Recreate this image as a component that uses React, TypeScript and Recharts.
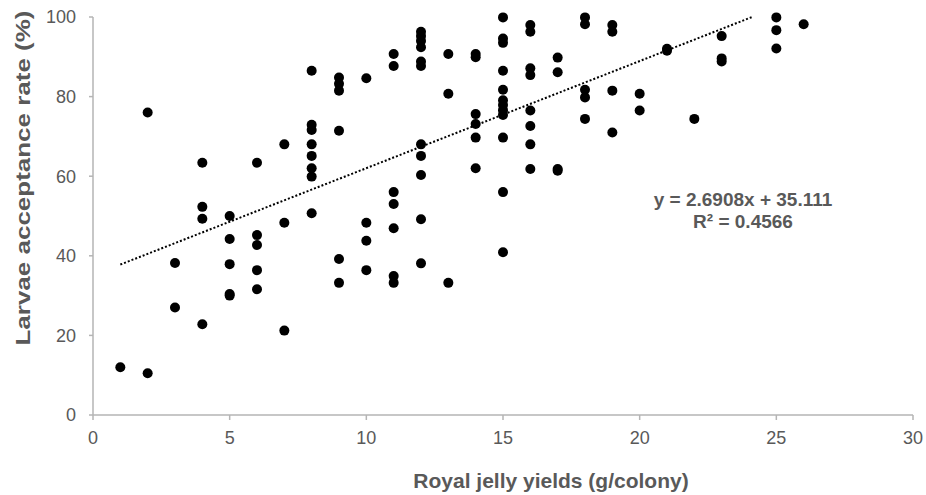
import React from 'react';
import { ScatterChart, Scatter, XAxis, YAxis } from 'recharts';

// Royal jelly yields (g/colony)
const yieldX = [
  1,
  2, 2,
  3, 3,
  4, 4, 4, 4,
  5, 5, 5, 5, 5,
  6, 6, 6, 6, 6,
  7, 7, 7,
  8, 8, 8, 8, 8, 8, 8, 8,
  9, 9, 9, 9, 9, 9,
  10, 10, 10, 10,
  11, 11, 11, 11, 11, 11, 11,
  12, 12, 12, 12, 12, 12, 12, 12, 12, 12, 12,
  13, 13, 13,
  14, 14, 14, 14, 14, 14,
  15, 15, 15, 15, 15, 15, 15, 15, 15, 15, 15, 15,
  16, 16, 16, 16, 16, 16, 16, 16,
  17, 17, 17, 17,
  18, 18, 18, 18, 18,
  19, 19, 19, 19,
  20, 20,
  21, 21,
  22,
  23, 23, 23,
  25, 25, 25,
  26,
];

// Larvae acceptance rate (%)
const acceptanceY = [
  12,
  76, 10.5,
  38.2, 27,
  63.4, 52.3, 49.3, 22.8,
  50, 44.2, 37.9, 30.4, 30,
  63.4, 45.2, 42.7, 36.4, 31.6,
  68, 48.3, 21.2,
  86.5, 72.9, 71.6, 68, 65.1, 62, 59.9, 50.7,
  84.8, 83.2, 81.5, 71.4, 39.2, 33.2,
  84.6, 48.3, 43.8, 36.4,
  90.7, 87.7, 56, 53, 46.9, 34.9, 33.2,
  96.3, 95.2, 94, 92.4, 88.8, 87.7, 68, 65.1, 60.3, 49.2, 38.1,
  90.7, 80.7, 33.2,
  90.7, 89.9, 75.6, 73.1, 69.7, 62,
  99.9, 94.6, 93.5, 86.5, 81.7, 79.1, 77.9, 76.6, 75.4, 69.7, 56, 40.9,
  98, 96.3, 87.1, 85.4, 76.5, 72.6, 68, 61.8,
  89.8, 86.1, 61.8, 61.4,
  99.9, 98.2, 81.7, 79.8, 74.4,
  98, 96.3, 81.5, 71,
  80.7, 76.5,
  92, 91.5,
  74.4,
  95.2, 89.6, 88.8,
  99.9, 96.7, 92.1,
  98.2,
];

const xTicks = [0, 5, 10, 15, 20, 25, 30];
const yTicks = [0, 20, 40, 60, 80, 100];

const trendSlope = 2.6908;
const trendIntercept = 35.111;
const trendX = [1, 24.1];

const equationText = 'y = 2.6908x + 35.111';
const r2Text = 'R² = 0.4566';
const xTitle = 'Royal jelly yields (g/colony)';
const yTitle = 'Larvae acceptance rate (%)';

const points = yieldX.map((x, i) => ({ x, y: acceptanceY[i] }));
const trendData = trendX.map((x) => ({ x, y: trendSlope * x + trendIntercept }));

const FONT = '"Liberation Sans", Arial, sans-serif';
const TEXT = '#595959';
const AXIS = '#b5b5b5';

const dotShape = (p: any) => <circle cx={p.cx} cy={p.cy} r={5} fill="#000" />;
const noShape = () => <g />;

const yLabel = () => (
  <text
    x={22}
    y={178}
    transform="rotate(-90 22 178)"
    textAnchor="middle"
    dominantBaseline="central"
    fontSize={21}
    fontWeight="bold"
    fill={TEXT}
    fontFamily={FONT}
    textLength={335}
    lengthAdjust="spacingAndGlyphs"
  >
    {yTitle}
  </text>
);

const xLabel = () => (
  <text
    x={551}
    y={488}
    textAnchor="middle"
    fontSize={21}
    fontWeight="bold"
    fill={TEXT}
    fontFamily={FONT}
  >
    {xTitle}
  </text>
);

export default function App() {
  return (
    <div style={{ position: 'absolute', left: 0, top: 0, width: 926, height: 495, background: '#fff' }}>
      <ScatterChart width={926} height={495} margin={{ top: 17, right: 13, bottom: 0, left: 0 }}>
        <XAxis
          type="number"
          dataKey="x"
          domain={[0, 30]}
          ticks={xTicks}
          interval={0}
          height={80}
          tickSize={5}
          tickMargin={11}
          stroke={AXIS}
          strokeWidth={1.5}
          tick={{ fill: TEXT, fontSize: 18, fontFamily: FONT }}
          label={xLabel}
        />
        <YAxis
          type="number"
          dataKey="y"
          domain={[0, 100]}
          ticks={yTicks}
          interval={0}
          width={93}
          tickSize={4}
          tickMargin={13}
          stroke={AXIS}
          strokeWidth={1.5}
          tick={{ fill: TEXT, fontSize: 18, fontFamily: FONT }}
          label={yLabel}
        />
        <Scatter data={points} shape={dotShape} isAnimationActive={false} />
        <Scatter
          data={trendData}
          shape={noShape}
          line={{ stroke: '#000', strokeWidth: 2, strokeDasharray: '2 2' }}
          isAnimationActive={false}
        />
      </ScatterChart>
      <svg
        width={926}
        height={495}
        style={{ position: 'absolute', left: 0, top: 0, pointerEvents: 'none' }}
      >
        <text x={743} y={206} textAnchor="middle" fontSize={19} fontWeight="bold" fill={TEXT} fontFamily={FONT}>
          {equationText}
        </text>
        <text x={743} y={228} textAnchor="middle" fontSize={19} fontWeight="bold" fill={TEXT} fontFamily={FONT}>
          {r2Text}
        </text>
      </svg>
    </div>
  );
}
